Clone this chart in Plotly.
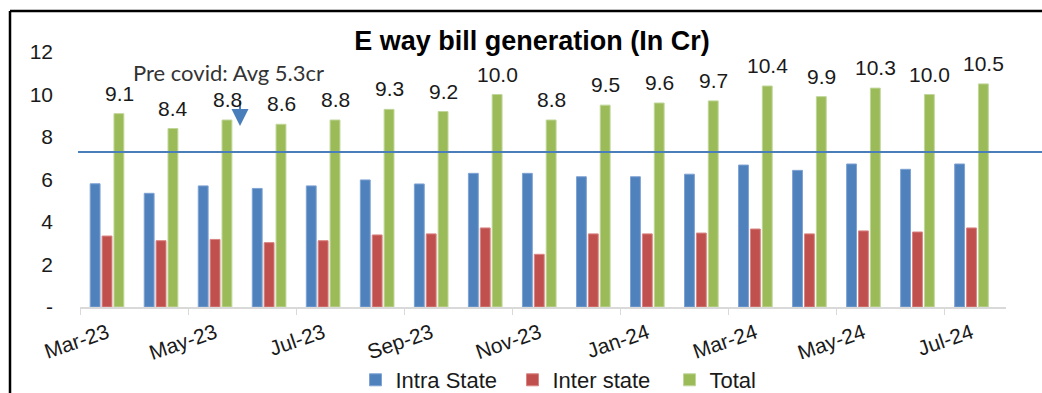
import plotly.graph_objects as go

# ---------------- data ----------------
months = ["Mar-23", "Apr-23", "May-23", "Jun-23", "Jul-23", "Aug-23", "Sep-23", "Oct-23",
          "Nov-23", "Dec-23", "Jan-24", "Feb-24", "Mar-24", "Apr-24", "May-24", "Jun-24", "Jul-24"]
intra_state = [5.8, 5.35, 5.7, 5.58, 5.7, 5.98, 5.79, 6.29, 6.29, 6.13, 6.13, 6.25, 6.68, 6.43, 6.73, 6.48, 6.73]
inter_state = [3.34, 3.12, 3.18, 3.03, 3.12, 3.39, 3.44, 3.72, 2.48, 3.44, 3.44, 3.48, 3.67, 3.44, 3.58, 3.53, 3.72]
total = [9.1, 8.4, 8.8, 8.6, 8.8, 9.3, 9.2, 10.0, 8.8, 9.5, 9.6, 9.7, 10.4, 9.9, 10.3, 10.0, 10.5]
y_tick_vals = [0, 2, 4, 6, 8, 10, 12]
y_tick_text = ["-", "2", "4", "6", "8", "10", "12"]
reference_level = 7.3
reference_label = "Pre covid: Avg 5.3cr"
title_text = "E way bill generation (In Cr)"

# ---------------- layout geometry ----------------
W, H = 1042, 393
ML, MR, MT, MB = 80, 36, 52, 86
PW, PH = W - ML - MR, H - MT - MB


def px_x(x):
    return (x - ML) / PW


def px_y(y):
    return (H - MB - y) / PH


FONT = "Arial, 'Liberation Sans', sans-serif"
TXT = "#1a1a1a"
BLUE, RED, GREEN = "#4F81BD", "#C0504D", "#9BBB59"

fig = go.Figure()
fig.add_trace(go.Bar(name="Intra State", x=months, y=intra_state, marker_color=BLUE,
                     marker_line=dict(color="#7FA3D3", width=1)))
fig.add_trace(go.Bar(name="Inter state", x=months, y=inter_state, marker_color=RED,
                     marker_line=dict(color="#D98583", width=1)))
fig.add_trace(go.Bar(name="Total", x=months, y=total, marker_color=GREEN,
                     marker_line=dict(color="#C0D69A", width=1)))

shapes = [
    # reference line
    dict(type="line", xref="paper", yref="y", x0=px_x(78), x1=px_x(1044),
         y0=reference_level, y1=reference_level, line=dict(color="#4A7EBB", width=2)),
    # black frame (left and top)
    dict(type="line", xref="paper", yref="paper", x0=px_x(10), x1=px_x(10),
         y0=px_y(11), y1=px_y(396), line=dict(color="black", width=2.5)),
    dict(type="line", xref="paper", yref="paper", x0=px_x(10), x1=px_x(1044),
         y0=px_y(11), y1=px_y(11), line=dict(color="black", width=2.5)),
]

annotations = [
    dict(xref="paper", yref="paper", x=px_x(240), y=px_y(126), ax=0, ay=-27,
         text="", showarrow=True, arrowhead=2, arrowsize=1.7, arrowwidth=2,
         arrowcolor="#4A7EBB"),
    dict(xref="paper", yref="paper", x=px_x(228), y=px_y(72), text=reference_label,
         showarrow=False, xanchor="center", yanchor="middle",
         font=dict(family="Lato, 'Open Sans', sans-serif", size=22, color="#333333")),
]
# data labels above the Total bars
for m, v in zip(months, total):
    annotations.append(dict(xref="x", yref="y", x=m, y=v, text=f"{v:.1f}",
                            showarrow=False, xanchor="center", yanchor="bottom",
                            xshift=12, yshift=7,
                            font=dict(family=FONT, size=21, color=TXT)))

fig.update_layout(
    width=W, height=H,
    margin=dict(l=ML, r=MR, t=MT, b=MB, autoexpand=False),
    paper_bgcolor="white", plot_bgcolor="white",
    barmode="group", bargap=0.34, bargroupgap=0.17,
    title=dict(text="<b>" + title_text + "</b>", xref="container", yref="container",
               x=532 / W, y=1 - 41 / H, xanchor="center", yanchor="middle",
               font=dict(family=FONT, size=27, color="black")),
    font=dict(family=FONT, color=TXT),
    showlegend=True,
    legend=dict(orientation="h", xref="container", yref="container",
                x=591 / W, y=1 - 380 / H, xanchor="center", yanchor="middle",
                font=dict(family=FONT, size=22, color=TXT), traceorder="normal",
                itemwidth=30, entrywidth=112, entrywidthmode="pixels"),
    xaxis=dict(type="category", tickmode="linear", tick0=0, dtick=2,
               tickson="boundaries", ticks="outside", ticklen=6, tickcolor="#D9D9D9",
               showline=True, linecolor="#D9D9D9", linewidth=1.5, showgrid=False,
               tickangle=-19, ticklabelstandoff=4, automargin=False,
               tickfont=dict(family=FONT, size=21, color=TXT)),
    yaxis=dict(range=[0, 12], tickvals=y_tick_vals, ticktext=y_tick_text,
               showgrid=False, zeroline=False, showline=False, ticks="",
               ticklabelstandoff=26, automargin=False,
               tickfont=dict(family=FONT, size=21, color=TXT)),
    shapes=shapes, annotations=annotations,
)

fig.write_html(
    "out.html",
    config={"displayModeBar": False},
    post_script="document.documentElement.style.margin='0';document.body.style.margin='0';"
                "document.body.style.overflow='hidden';",
)
